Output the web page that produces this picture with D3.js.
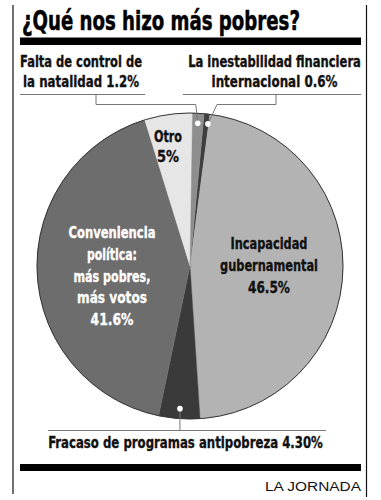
<!DOCTYPE html>
<html>
<head>
<meta charset="utf-8">
<script src="https://cdn.jsdelivr.net/npm/d3@7"></script>
<style>
html,body{margin:0;padding:0;background:#fff;}
svg{display:block;}
.cond{font-family:"Liberation Sans Narrow","DejaVu Sans Condensed","Arial Narrow",sans-serif;font-weight:bold;font-stretch:condensed;}
</style>
</head>
<body>
<svg id="chart" width="381" height="500"></svg>
<script>
// ---- data ----
const title = "¿Qué nos hizo más pobres?";
const categories = [
  "La inestabilidad financiera internacional",
  "Incapacidad gubernamental",
  "Fracaso de programas antipobreza",
  "Conveniencia política: más pobres, más votos",
  "Otro",
  "Falta de control de la natalidad"
];
const values = [0.6, 46.5, 4.3, 41.6, 5, 1.2];
const valueLabels = ["0.6%", "46.5%", "4.30%", "41.6%", "5%", "1.2%"];
const sliceColors = ["#3e3e3e", "#b3b3b3", "#3a3a3a", "#6d6d6d", "#e6e6e6", "#8e8e8e"];
const source = "LA JORNADA";

// ---- drawing ----
const svg = d3.select("#chart");
const cx = 190, cy = 266, R = 153;
const deg = Math.PI / 180;

// frame
svg.append("line").attr("x1", 13).attr("x2", 13).attr("y1", 5).attr("y2", 494)
  .attr("stroke", "#111").attr("stroke-width", 1.2);
svg.append("line").attr("x1", 366.5).attr("x2", 366.5).attr("y1", 5).attr("y2", 497)
  .attr("stroke", "#111").attr("stroke-width", 1.2);
svg.append("rect").attr("x", 20).attr("y", 37.5).attr("width", 341).attr("height", 7.5).attr("fill", "#000");
svg.append("rect").attr("x", 20).attr("y", 464).attr("width", 341).attr("height", 7).attr("fill", "#000");

// fitted text: scales horizontally so the text spans the given width
function fitText(str, cxText, y, width, size, color, cls, family, strokeW) {
  const t = svg.append("text").attr("font-size", size).attr("fill", color)
    .attr("text-anchor", "middle").text(str);
  if (cls) t.attr("class", cls);
  if (family) t.attr("font-family", family);
  if (strokeW) t.attr("stroke", color).attr("stroke-width", strokeW).attr("stroke-linejoin", "round");
  const w = t.node().getComputedTextLength();
  const s = width / w;
  t.attr("transform", `translate(${cxText},${y}) scale(${s},1)`);
  return t;
}

// title
fitText(title, 161, 29.5, 278, 26, "#000", "cond", null, 0.5);

// source
fitText(source, 313, 491, 96, 13, "#111", null, "'Liberation Sans', Arial, sans-serif", 0);

// pie
const pie = d3.pie().sort(null).value(d => d)
  .startAngle(5.3 * deg).endAngle(5.3 * deg + 2 * Math.PI);
const arcs = pie(values);
const arc = d3.arc().innerRadius(0).outerRadius(R);
const g = svg.append("g").attr("transform", `translate(${cx},${cy})`);
g.selectAll("path.slice").data(arcs).join("path").attr("class", "slice")
  .attr("d", arc).attr("fill", (d, i) => sliceColors[i])
  .attr("stroke", (d, i) => sliceColors[i]).attr("stroke-width", 0.4);
g.append("circle").attr("r", R).attr("fill", "none").attr("stroke", "#333").attr("stroke-width", 1);

// dots for small slices
const dotArc = d3.arc().innerRadius(143).outerRadius(143);
function dotPos(i) { const c = dotArc.centroid(arcs[i]); return [cx + c[0], cy + c[1]]; }
const pInest = dotPos(0), pFrac = dotPos(2), pFalta = dotPos(5);
pInest[0] += 2;

const lineColor = "#777";
function poly(pts) {
  svg.append("path").attr("d", d3.line()(pts)).attr("fill", "none")
    .attr("stroke", lineColor).attr("stroke-width", 1);
}
// left label leader
poly([[20, 94.5], [145, 94.5]]);
poly([[96, 94.5], [96, 104.5], [pFalta[0] - 2, 104.5], [pFalta[0], pFalta[1]]]);
// right label leader
poly([[183, 94.5], [361, 94.5]]);
poly([[276, 94.5], [276, 104.5], [217, 104.5], [pInest[0], pInest[1]]]);
// bottom leader
poly([[48, 430.5], [326, 430.5]]);
poly([[pFrac[0], pFrac[1]], [pFrac[0], 430.5]]);

[pInest, pFrac, pFalta].forEach(p => {
  svg.append("circle").attr("cx", p[0]).attr("cy", p[1]).attr("r", 2.8)
    .attr("fill", "#fff");
});

// labels
function label(lines, x, ys, widths, color) {
  lines.forEach((t, k) => fitText(t, x, ys[k], widths[k], 16.5, color, "cond", null, 0.35));
}
label(["Falta de control de", "la natalidad " + valueLabels[5]], 81, [67, 87], [122, 116], "#111");
label(["La inestabilidad financiera", "internacional " + valueLabels[0]], 274.5, [67, 87], [173, 126], "#111");
label(["Fracaso de programas antipobreza " + valueLabels[2]], 185.5, [448], [275], "#111");

label(["Otro", valueLabels[4]], 168, [142, 162], [28, 22], "#111");
label(["Conveniencia", "política:", "más pobres,", "más votos", valueLabels[3]], 112,
  [238, 260, 282, 303, 325], [87, 50, 77, 70, 43], "#fff");
label(["Incapacidad", "gubernamental", valueLabels[1]], 269,
  [249, 271, 293], [77, 98, 42], "#111");
</script>
</body>
</html>
